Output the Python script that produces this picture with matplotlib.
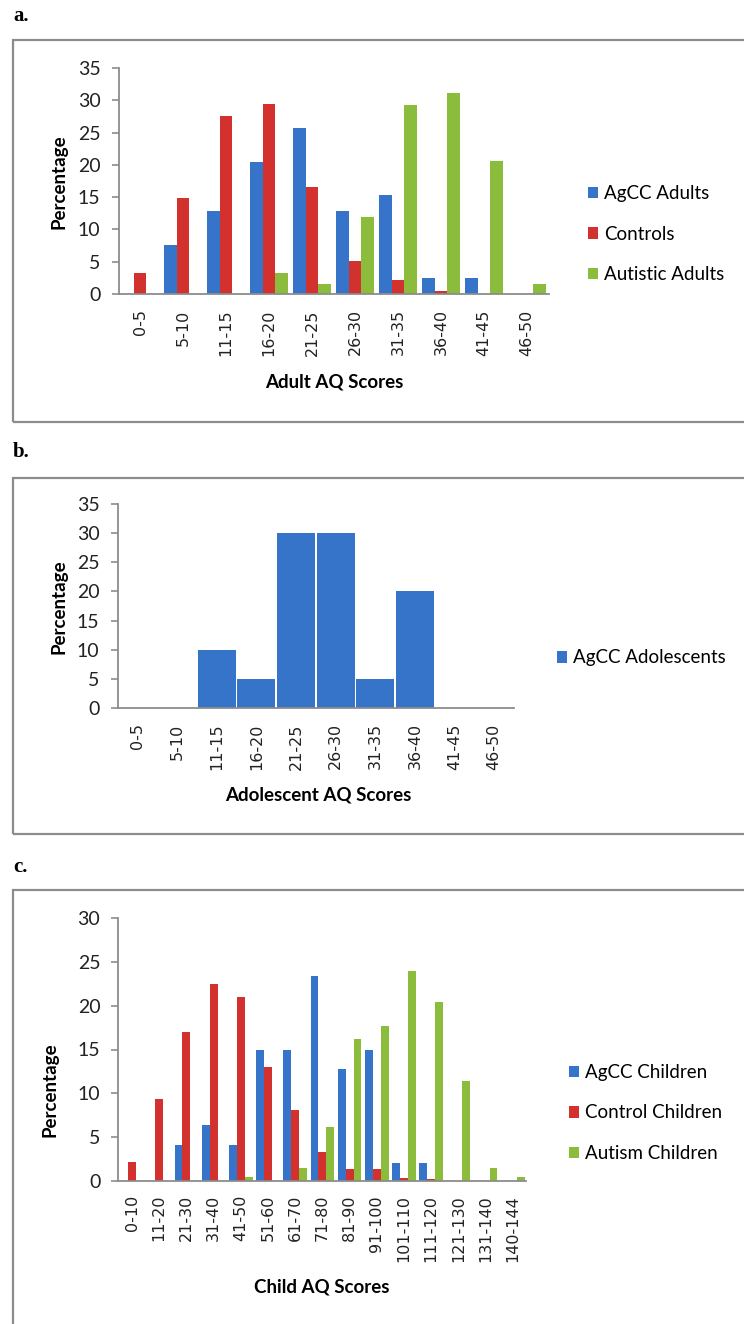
import numpy as np
import matplotlib
matplotlib.use('Agg')
import matplotlib.pyplot as plt
from matplotlib.patches import Rectangle

# panel a - adults
adult_bins = ['0-5', '5-10', '11-15', '16-20', '21-25', '26-30', '31-35', '36-40', '41-45', '46-50']
agcc_adults = [0, 7.6, 12.8, 20.4, 25.7, 12.8, 15.3, 2.5, 2.5, 0]
controls = [3.3, 14.9, 27.6, 29.4, 16.6, 5.1, 2.2, 0.5, 0, 0]
autistic_adults = [0, 0, 0, 3.3, 1.6, 12.0, 29.3, 31.1, 20.6, 1.6]

# panel b - adolescents
adol_bins = adult_bins
agcc_adol = [0, 0, 10, 5, 30, 30, 5, 20, 0, 0]

# panel c - children
child_bins = ['0-10', '11-20', '21-30', '31-40', '41-50', '51-60', '61-70', '71-80',
              '81-90', '91-100', '101-110', '111-120', '121-130', '131-140', '140-144']
agcc_children = [0, 0, 4.1, 6.4, 4.1, 14.9, 14.9, 23.4, 12.8, 14.9, 2.1, 2.1, 0, 0, 0]
control_children = [2.2, 9.4, 17.0, 22.5, 21.0, 13.0, 8.1, 3.3, 1.4, 1.4, 0.3, 0.2, 0, 0, 0]
autism_children = [0, 0, 0, 0, 0.4, 0, 1.5, 6.2, 16.2, 17.7, 24.0, 20.4, 11.4, 1.5, 0.5]

BLUE = '#3574c9'
RED = '#d3312e'
GREEN = '#8cbc3c'
AXC = '#8c8c8c'
FONT = 'Lato'
LBL = 13.5

W, H = 744, 1324
fig = plt.figure(figsize=(W / 100, H / 100), dpi=100)


def fx(px):
    return px / W


def fy(py):
    return 1 - py / H


def make_axes(left, right, top, bottom):
    return fig.add_axes([fx(left), fy(bottom), fx(right) - fx(left), (bottom - top) / H])


def style(ax, n, ymax, pad_x):
    ax.set_xlim(-0.5, n - 0.5)
    ax.set_ylim(0, ymax)
    ax.set_yticks(np.arange(0, ymax + 1, 5))
    for s in ['top', 'right']:
        ax.spines[s].set_visible(False)
    for s in ['left', 'bottom']:
        ax.spines[s].set_color(AXC)
        ax.spines[s].set_linewidth(1.3)
    ax.tick_params(axis='y', direction='out', length=5, width=1.2, color=AXC, pad=8,
                   labelsize=14, labelcolor='#222222')
    ax.tick_params(axis='x', length=0, pad=pad_x, labelsize=11.5, labelcolor='#222222',
                   labelrotation=90)
    for t in ax.get_yticklabels():
        t.set_fontfamily(FONT)
    for t in ax.get_xticklabels():
        t.set_fontfamily('DejaVu Sans')


def add_legend(ax, x, y):
    ax.legend(loc='center left', bbox_to_anchor=(fx(x), fy(y)), bbox_transform=fig.transFigure,
              frameon=False, handlelength=0.55, handleheight=0.55, handletextpad=0.3,
              labelspacing=1.25, borderpad=0, borderaxespad=0,
              prop={'family': FONT, 'size': 13.5})


# frames and panel letters
for top, bottom in [(40, 422), (478, 834), (890, 1340)]:
    fig.add_artist(Rectangle((fx(13), fy(bottom)), 1.2, (bottom - top) / H,
                             transform=fig.transFigure, fill=False, edgecolor=AXC, lw=1.6))
for lab, y in [('a.', 16), ('b.', 452), ('c.', 867)]:
    fig.text(fx(13), fy(y), lab, family='Liberation Serif', weight='bold', fontsize=15,
             va='center', ha='left')

bw = 0.29

# panel a
ax1 = make_axes(118.5, 548.5, 68, 294)
x = np.arange(len(adult_bins))
ax1.bar(x - bw, agcc_adults, bw, color=BLUE, label='AgCC Adults')
ax1.bar(x, controls, bw, color=RED, label='Controls')
ax1.bar(x + bw, autistic_adults, bw, color=GREEN, label='Autistic Adults')
ax1.set_xticks(x)
ax1.set_xticklabels(adult_bins)
style(ax1, len(adult_bins), 35, 11)
add_legend(ax1, 588, 234)
fig.text(fx(334), fy(382), 'Adult AQ Scores', family=FONT, weight='bold', fontsize=LBL,
         ha='center', va='center')
fig.text(fx(59), fy(182), 'Percentage', family=FONT, weight='bold', fontsize=LBL,
         ha='center', va='center', rotation=90)

# panel b
ax2 = make_axes(117.6, 514, 504, 708)
x = np.arange(len(adol_bins))
ax2.bar(x, agcc_adol, 0.96, color=BLUE, label='AgCC Adolescents')
ax2.set_xticks(x)
ax2.set_xticklabels(adol_bins)
style(ax2, len(adol_bins), 35, 11)
add_legend(ax2, 557, 658)
fig.text(fx(318), fy(795), 'Adolescent AQ Scores', family=FONT, weight='bold', fontsize=LBL,
         ha='center', va='center')
fig.text(fx(59), fy(607), 'Percentage', family=FONT, weight='bold', fontsize=LBL,
         ha='center', va='center', rotation=90)

# panel c
ax3 = make_axes(118.4, 526.4, 918, 1181)
x = np.arange(len(child_bins))
ax3.bar(x - bw, agcc_children, bw, color=BLUE, label='AgCC Children')
ax3.bar(x, control_children, bw, color=RED, label='Control Children')
ax3.bar(x + bw, autism_children, bw, color=GREEN, label='Autism Children')
ax3.set_xticks(x)
ax3.set_xticklabels(child_bins)
style(ax3, len(child_bins), 30, 10)
add_legend(ax3, 569, 1113)
fig.text(fx(322), fy(1287), 'Child AQ Scores', family=FONT, weight='bold', fontsize=LBL,
         ha='center', va='center')
fig.text(fx(50), fy(1090), 'Percentage', family=FONT, weight='bold', fontsize=LBL,
         ha='center', va='center', rotation=90)

fig.savefig('out.png', dpi=100)
